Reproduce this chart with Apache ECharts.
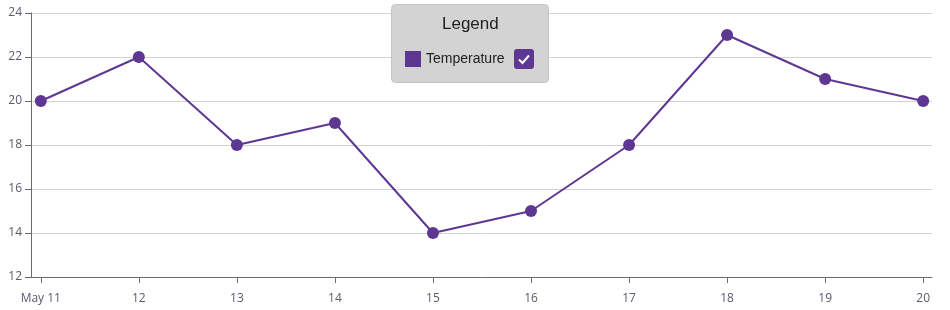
<!DOCTYPE html>
<html><head><meta charset="utf-8">
<script src="https://cdn.jsdelivr.net/npm/echarts@6/dist/echarts.min.js"></script>
<style>html,body{margin:0;padding:0;background:#fff}#c{width:950px;height:310px}</style>
</head><body><div id="c"></div>
<script>
const days = [11, 12, 13, 14, 15, 16, 17, 18, 19, 20];
const temperature = [20, 22, 18, 19, 14, 15, 18, 23, 21, 20];
const yTicks = [12, 14, 16, 18, 20, 22, 24];
const seriesName = 'Temperature';
const legendTitle = 'Legend';

const purple = '#5e3792';
const chart = echarts.init(document.getElementById('c'), null, {renderer: 'canvas'});
chart.setOption({
  animation: false,
  grid: {left: 31, right: 18, top: 13, bottom: 33},
  xAxis: {
    type: 'value', min: 10.9, max: 20.09,
    axisLine: {show: true, lineStyle: {color: '#6b6b6b', width: 1}},
    axisTick: {show: true, length: 6, customValues: days, lineStyle: {color: '#6b6b6b'}},
    axisLabel: {customValues: days, color: '#5a5a6e', fontSize: 12, fontFamily: 'Open Sans', margin: 16,
      formatter: v => v === days[0] ? 'May ' + v : String(v)},
    splitLine: {show: false}
  },
  yAxis: {
    type: 'value', min: yTicks[0], max: yTicks[yTicks.length - 1], interval: 2,
    axisLine: {show: true, lineStyle: {color: '#6b6b6b', width: 1}},
    axisTick: {show: true, length: 6, lineStyle: {color: '#6b6b6b'}},
    axisLabel: {color: '#5a5a6e', fontSize: 12, fontFamily: 'Open Sans', margin: 9},
    splitLine: {show: true, lineStyle: {color: '#d3d3d3', width: 1}}
  },
  legend: {
    left: 405, top: 51, itemWidth: 16, itemHeight: 16, itemGap: 6, padding: 0,
    icon: 'rect', selectedMode: false,
    textStyle: {fontSize: 14, color: '#222', fontFamily: 'Liberation Sans'},
    data: [seriesName], z: 10
  },
  graphic: [
    {type: 'rect', left: 391, top: 4, z: 5,
      shape: {width: 157, height: 78, r: 4},
      style: {fill: '#d3d3d3', stroke: '#c4c4c4', lineWidth: 1}},
    {type: 'text', z: 6, top: 16, left: 442,
      style: {text: legendTitle, fontSize: 17, fontFamily: 'Liberation Sans', fill: '#222'}},
    {type: 'group', left: 514, top: 49, z: 6, children: [
      {type: 'rect', shape: {x: 0, y: 0, width: 20, height: 20, r: 3}, style: {fill: purple}, z: 6},
      {type: 'polyline', shape: {points: [[5, 10.5], [8.5, 14], [15, 6.5]]},
        style: {stroke: '#fff', lineWidth: 2, fill: null}, z: 7}
    ]}
  ],
  series: [{
    name: seriesName, type: 'line',
    data: days.map((d, i) => [d, temperature[i]]),
    symbol: 'circle', symbolSize: 12,
    lineStyle: {color: purple, width: 2},
    itemStyle: {color: purple},
    z: 3
  }]
});
</script></body></html>
